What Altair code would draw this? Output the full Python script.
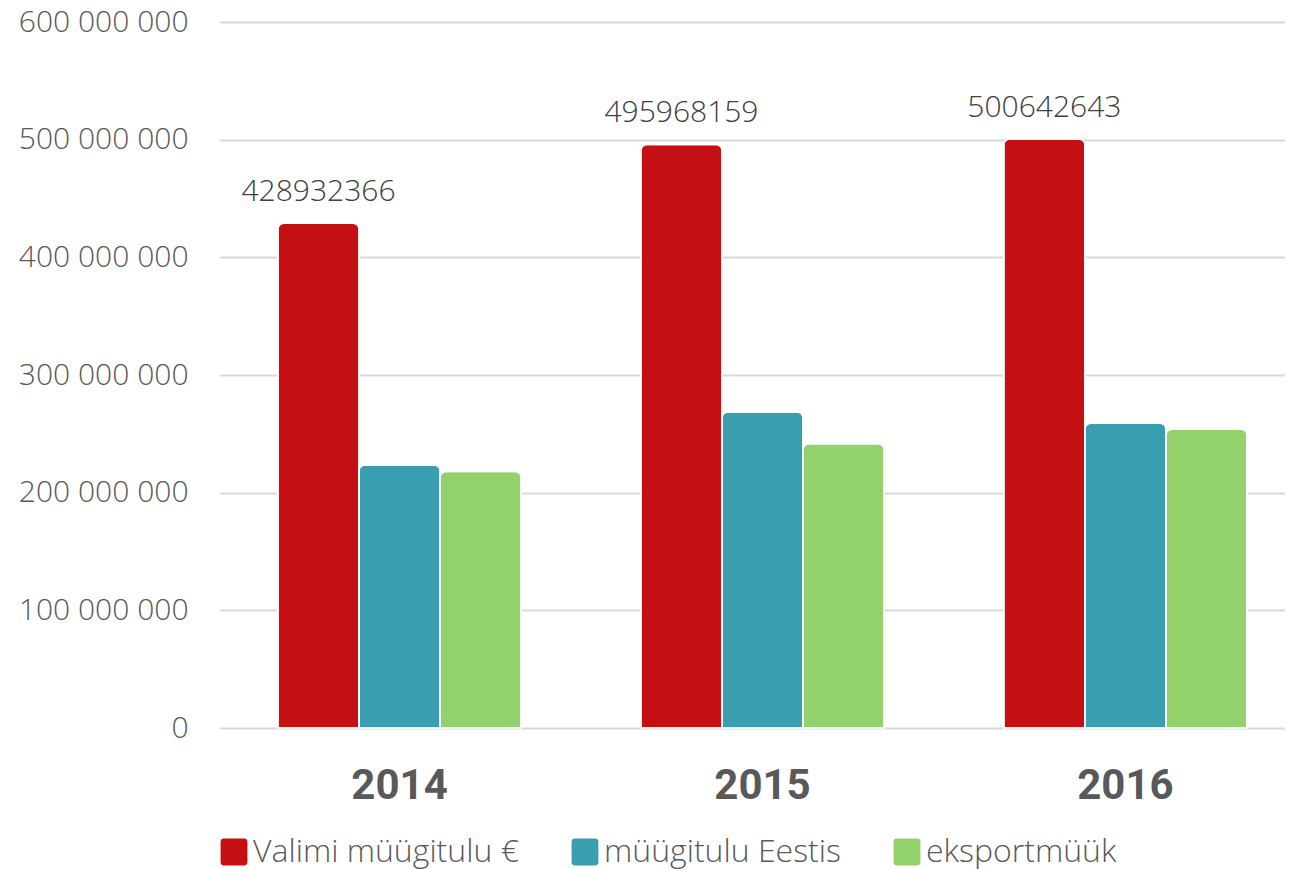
import altair as alt
import pandas as pd

years = ["2014", "2015", "2016"]
series = ["Valimi müügitulu €", "müügitulu Eestis", "eksportmüük"]
valimi = [428932366, 495968159, 500642643]
eestis = [223500000, 268500000, 259000000]
eksport = [218000000, 241500000, 254000000]
y_ticks = [0, 100000000, 200000000, 300000000, 400000000, 500000000, 600000000]
colors = ["#C41013", "#389EB0", "#92D16B"]

rows = []
for i, yr in enumerate(years):
    for s, vals in zip(series, [valimi, eestis, eksport]):
        rows.append({"year": yr, "series": s, "value": vals[i]})
df = pd.DataFrame(rows)

FONT = "Open Sans"
rounded = ("M-0.75,-1 L0.75,-1 Q1,-1 1,-0.75 L1,0.75 Q1,1 0.75,1 "
           "L-0.75,1 Q-1,1 -1,0.75 L-1,-0.75 Q-1,-1 -0.75,-1 Z")

x = alt.X("year:N", sort=years,
          scale=alt.Scale(paddingInner=0.33, paddingOuter=0.1625, range=[0, 1087]),
          axis=alt.Axis(title=None, labelAngle=0, labelFont="Roboto",
                        labelFontSize=42, labelFontWeight="bold",
                        labelColor="#595959", labelPadding=37,
                        domain=False, ticks=False, grid=False))
xoff = alt.XOffset("series:N", sort=series,
                   scale=alt.Scale(domain=series, paddingInner=0.0))
y = alt.Y("value:Q",
          scale=alt.Scale(domain=[0, 600000000], nice=False),
          axis=alt.Axis(title=None, values=y_ticks, domain=False, ticks=False,
                        labelFont=FONT, labelFontSize=30, labelFontWeight=300,
                        labelColor="#595959",
                        labelPadding=31, gridColor="#D9D9D9", gridWidth=2,
                        labelExpr="replace(format(datum.value, ','), /,/g, ' ')"))

bars = alt.Chart(df).mark_bar(
    cornerRadiusTopLeft=6, cornerRadiusTopRight=6,
    stroke="white", strokeWidth=1.5
).encode(
    x=x, xOffset=xoff, y=y,
    color=alt.Color("series:N", sort=series,
                    scale=alt.Scale(domain=series, range=colors),
                    legend=alt.Legend(title=None, orient="none",
                                      legendX=-1, legendY=814,
                                      direction="horizontal",
                                      symbolType=rounded, symbolSize=720,
                                      symbolStrokeWidth=0,
                                      labelFont=FONT, labelFontSize=32,
                                      labelFontWeight=300,
                                      labelColor="#595959", labelOffset=3,
                                      columnPadding=50, labelLimit=500))
)

labels = alt.Chart(df).transform_filter(
    alt.datum.series == series[0]
).mark_text(
    baseline="bottom", dy=-16, font=FONT, fontSize=30, fontWeight=300,
    color="#404040"
).encode(
    x=x, xOffset=xoff, y=y,
    text=alt.Text("value:Q", format="d")
)

chart = alt.layer(bars, labels).properties(
    width=1066, height=706,
    autosize=alt.AutoSizeParams(type="none"),
    padding={"left": 211, "top": 14, "right": 0, "bottom": 141}
).configure_view(stroke=None)

chart.save("out.html", embed_options={"renderer": "svg", "actions": False})
